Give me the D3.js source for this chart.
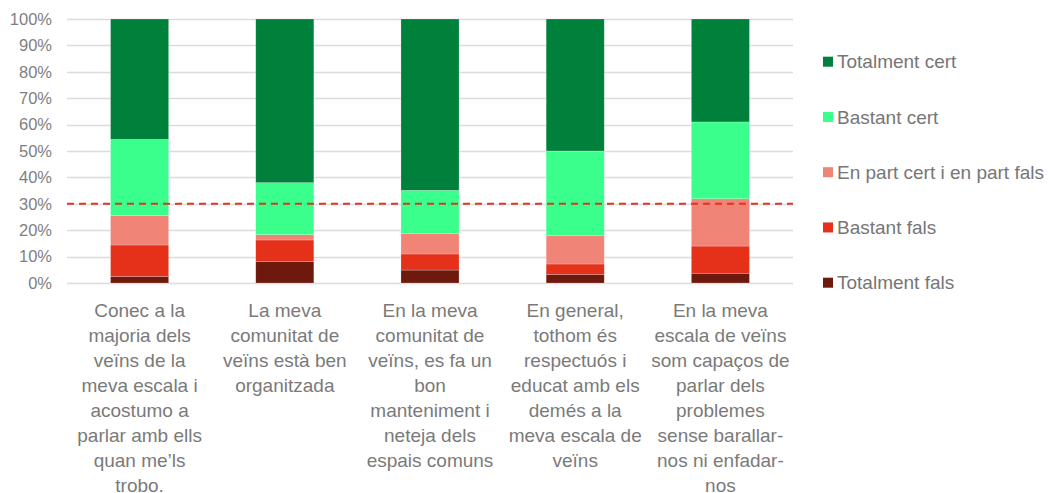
<!DOCTYPE html>
<html>
<head>
<meta charset="utf-8">
<script src="https://cdn.jsdelivr.net/npm/d3@7"></script>
<style>
  body { margin: 0; background: #fff; }
  text { font-family: "Liberation Sans", Arial, sans-serif; }
</style>
</head>
<body>
<svg id="chart" width="1051" height="493"></svg>
<script>
// categories (line breaks as in the original)
var categories = [
  ["Conec a la", "majoria dels", "veïns de la", "meva escala i", "acostumo a", "parlar amb ells", "quan me’ls", "trobo."],
  ["La meva", "comunitat de", "veïns està ben", "organitzada"],
  ["En la meva", "comunitat de", "veïns, es fa un", "bon", "manteniment i", "neteja dels", "espais comuns"],
  ["En general,", "tothom és", "respectuós i", "educat amb els", "demés a la", "meva escala de", "veïns"],
  ["En la meva", "escala de veïns", "som capaços de", "parlar dels", "problemes", "sense barallar-", "nos ni enfadar-", "nos"]
];

var seriesNames = ["Totalment fals", "Bastant fals", "En part cert i en part fals", "Bastant cert", "Totalment cert"];
var seriesColors = ["#6e190d", "#e5301a", "#f08477", "#3aff8c", "#00813b"];

// percentages per series, one value per category
var totalmentFals = [2.5, 8.1, 4.9, 3.3, 3.7];
var bastantFals   = [11.9, 8.2, 6.1, 3.9, 10.3];
var enPart        = [11.1, 2.0, 7.8, 10.7, 17.9];
var bastantCert   = [28.9, 19.7, 16.3, 32.1, 29.1];
var totalmentCert = [45.6, 62.0, 64.9, 50.0, 39.0];

var yTicks = [0, 10, 20, 30, 40, 50, 60, 70, 80, 90, 100];
var threshold = 30;

var seriesValues = [totalmentFals, bastantFals, enPart, bastantCert, totalmentCert];
var keys = seriesNames;
var data = categories.map(function(c, i) {
  var d = { idx: i };
  keys.forEach(function(k, j) { d[k] = seriesValues[j][i]; });
  return d;
});

var svg = d3.select("#chart"),
    margin = {top: 19, left: 67, right: 258, bottom: 210},
    width = 1051 - margin.left - margin.right,
    height = 493 - margin.top - margin.bottom,
    g = svg.append("g").attr("transform", "translate(" + margin.left + "," + margin.top + ")");

var x = d3.scaleBand()
    .domain(d3.range(categories.length))
    .range([0, width])
    .paddingInner(0.6)
    .paddingOuter(0.3);

var y = d3.scaleLinear()
    .domain([0, 100])
    .range([height, 0]);

var z = d3.scaleOrdinal().domain(keys).range(seriesColors);

// gridlines
g.append("g")
  .selectAll("line")
  .data(yTicks)
  .enter().append("line")
    .attr("x1", 0)
    .attr("x2", width)
    .attr("y1", function(d) { return Math.round(y(d)) + 0.5; })
    .attr("y2", function(d) { return Math.round(y(d)) + 0.5; })
    .attr("stroke", "#dcdcdc")
    .attr("stroke-width", 1.3);

// y axis labels
var yAxis = g.append("g")
    .call(d3.axisLeft(y).tickValues(yTicks).tickFormat(function(d) { return d + "%"; }).tickSize(0).tickPadding(15));
yAxis.select(".domain").remove();
yAxis.selectAll("text")
    .attr("fill", "#7f7f7f")
    .style("font-size", "16.5px");

// stacked bars
g.append("g")
  .selectAll("g")
  .data(d3.stack().keys(keys)(data))
  .enter().append("g")
    .attr("fill", function(d) { return z(d.key); })
  .selectAll("rect")
  .data(function(d) { return d; })
  .enter().append("rect")
    .attr("x", function(d) { return x(d.data.idx); })
    .attr("y", function(d) { return y(d[1]); })
    .attr("height", function(d) { return y(d[0]) - y(d[1]); })
    .attr("width", x.bandwidth())
    .attr("stroke", "#ffffff")
    .attr("stroke-opacity", 0.35)
    .attr("stroke-width", 0.6);

// threshold line
g.append("line")
    .attr("x1", 0)
    .attr("x2", width)
    .attr("y1", y(threshold))
    .attr("y2", y(threshold))
    .attr("stroke", "#e8321e")
    .attr("stroke-width", 2)
    .attr("stroke-dasharray", "7,5");

// category labels
var cat = g.append("g")
  .selectAll("text")
  .data(categories)
  .enter().append("text")
    .attr("text-anchor", "middle")
    .attr("fill", "#7a7a7a")
    .style("font-size", "19px")
    .attr("transform", function(d, i) { return "translate(" + (x(i) + x.bandwidth() / 2) + "," + (height + 34) + ")"; });
cat.selectAll("tspan")
  .data(function(d) { return d; })
  .enter().append("tspan")
    .attr("x", 0)
    .attr("y", function(d, i) { return i * 25; })
    .text(function(d) { return d; });

// legend (top to bottom: Totalment cert ... Totalment fals)
var legendItems = keys.slice().reverse();
var legend = svg.append("g")
  .selectAll("g")
  .data(legendItems)
  .enter().append("g")
    .attr("transform", function(d, i) { return "translate(823," + (61.7 + i * 55.25) + ")"; });
legend.append("rect")
    .attr("x", 0)
    .attr("y", -5)
    .attr("width", 10)
    .attr("height", 10)
    .attr("fill", function(d) { return z(d); });
legend.append("text")
    .attr("x", 14)
    .attr("y", 0)
    .attr("dy", "0.35em")
    .attr("fill", "#767676")
    .style("font-size", "19px")
    .text(function(d) { return d; });
</script>
</body>
</html>
